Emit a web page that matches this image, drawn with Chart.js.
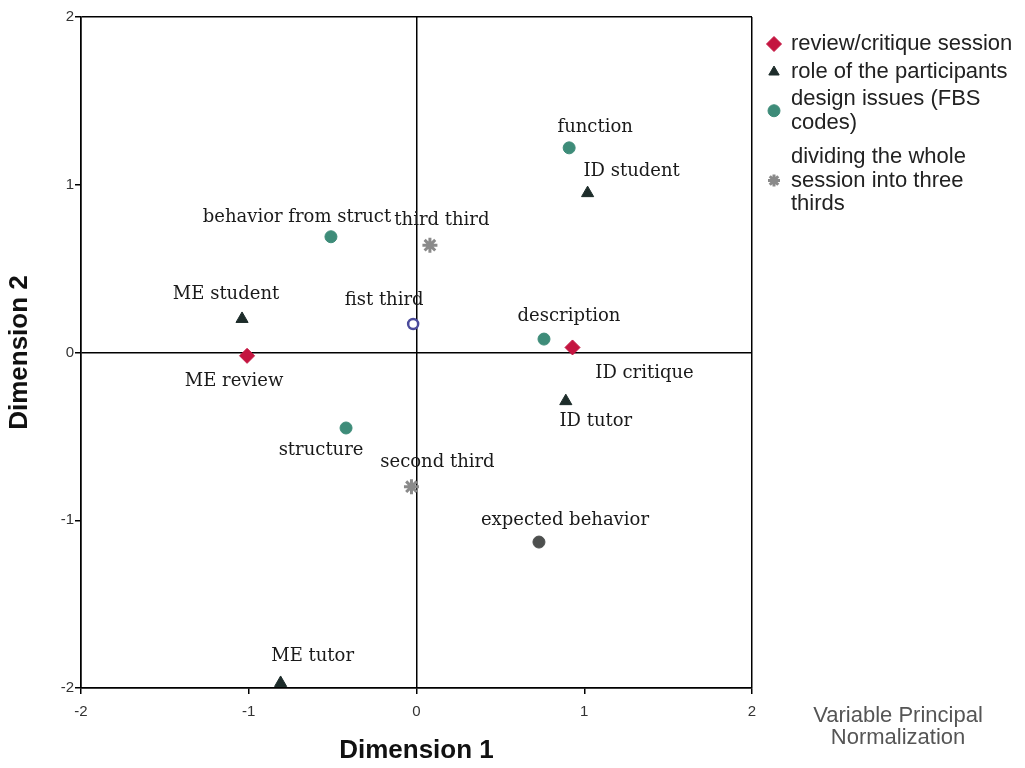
<!DOCTYPE html>
<html>
<head>
<meta charset="utf-8">
<script src="https://cdn.jsdelivr.net/npm/chart.js@4"></script>
<style>
  html, body { margin: 0; padding: 0; background: #fff; }
  #wrap { width: 1025px; height: 768px; position: relative; }
</style>
</head>
<body>
<div id="wrap"><canvas id="chart" width="1025" height="768"></canvas></div>
<script>
// review/critique session
const sessionNames = ["ME review", "ID critique"];
const sessionX = [-1.01, 0.93];
const sessionY = [-0.02, 0.03];

// role of the participants
const roleNames = ["ME student", "ID student", "ID tutor", "ME tutor"];
const roleX = [-1.04, 1.02, 0.89, -0.81];
const roleY = [0.20, 0.95, -0.29, -1.97];

// design issues (FBS codes)
const designNames = ["function", "behavior from struct", "description", "structure", "expected behavior"];
const designX = [0.91, -0.51, 0.76, -0.42, 0.73];
const designY = [1.22, 0.69, 0.08, -0.45, -1.13];

// dividing the whole session into three thirds
const thirdNames = ["fist third", "second third", "third third"];
const thirdX = [-0.02, -0.03, 0.08];
const thirdY = [0.17, -0.80, 0.64];

const axisTicks = [-2, -1, 0, 1, 2];

const legendLines = [
  ["review/critique session"],
  ["role of the participants"],
  ["design issues (FBS", "codes)"],
  ["dividing the whole", "session into three", "thirds"]
];

// label offsets in px from the marker (dx, dy), per series
const sessionOff = [[-13, 25], [72, 26]];
const roleOff = [[-16, -25], [44, -22], [30, 20], [32, -27]];
const designOff = [[26, -21], [-34, -19], [25, -23], [-25, 22], [26, -22]];
const thirdOff = [[-29, -24], [26, -24], [12, -25]];

const pts = (xs, ys, names) => xs.map((x, i) => ({x: x, y: ys[i], name: names[i]}));

const RED = "#c41540", DARK = "#1d2c2a", TEAL = "#3e8c79", GREY = "#8a8a8a";

const datasets = [
  {label: "review/critique session", data: pts(sessionX, sessionY, sessionNames), off: sessionOff,
   pointStyle: "rectRot", pointRadius: 7.5, backgroundColor: RED, borderColor: RED},
  {label: "role of the participants", data: pts(roleX, roleY, roleNames), off: roleOff,
   pointStyle: "triangle", pointRadius: 7, backgroundColor: DARK, borderColor: DARK},
  {label: "design issues (FBS codes)", data: pts(designX, designY, designNames), off: designOff,
   pointStyle: "circle", pointRadius: 6,
   backgroundColor: [TEAL, TEAL, TEAL, TEAL, "#4d4f4e"], borderColor: [TEAL, TEAL, TEAL, TEAL, "#4d4f4e"]},
  {label: "dividing the whole session into three thirds", data: pts(thirdX, thirdY, thirdNames), off: thirdOff,
   pointStyle: ["circle", "star", "star"], pointRadius: [5, 7.5, 7.5], borderWidth: [2.5, 3, 3],
   backgroundColor: ["#fff", GREY, GREY], borderColor: ["#4b4b9c", GREY, GREY]}
];

const lineColor = ctx => (ctx.tick && (ctx.tick.value === 0 || Math.abs(ctx.tick.value) === 2)) ? "#000" : "rgba(0,0,0,0)";

const pointLabels = {
  id: "pointLabels",
  afterDatasetsDraw(chart) {
    const c = chart.ctx;
    c.save();
    c.font = '18px "DejaVu Serif", serif';
    c.fillStyle = "#1a1a1a";
    c.textAlign = "center";
    c.textBaseline = "middle";
    chart.data.datasets.forEach((ds, di) => {
      chart.getDatasetMeta(di).data.forEach((el, i) => {
        const o = ds.off[i];
        c.fillText(ds.data[i].name, el.x + o[0], el.y + o[1]);
      });
    });
    c.restore();
  }
};

const sideLegend = {
  id: "sideLegend",
  afterDraw(chart) {
    const c = chart.ctx;
    c.save();
    c.font = '22px "Liberation Sans", Arial, sans-serif';
    c.textBaseline = "middle";
    const startY = [44, 72, 99, 157];
    legendLines.forEach((lines, k) => {
      c.fillStyle = "#222";
      lines.forEach((t, j) => c.fillText(t, 791, startY[k] + j * 23.5));
      const ds = chart.data.datasets[k];
      const my = startY[k] + (lines.length - 1) * 23.5 / 2;
      const style = Array.isArray(ds.pointStyle) ? ds.pointStyle[1] : ds.pointStyle;
      const bg = Array.isArray(ds.backgroundColor) ? ds.backgroundColor[1] : ds.backgroundColor;
      const bc = Array.isArray(ds.borderColor) ? ds.borderColor[1] : ds.borderColor;
      c.fillStyle = bg; c.strokeStyle = bc; c.lineWidth = style === "star" ? 3 : 1;
      Chart.helpers.drawPoint(c, {pointStyle: style, radius: style === "rectRot" ? 7.5 : 6, borderWidth: c.lineWidth}, 774, my);
    });
    c.font = '22px "Liberation Sans", Arial, sans-serif';
    c.fillStyle = "#555";
    c.textAlign = "center";
    c.fillText("Variable Principal", 898, 716);
    c.fillText("Normalization", 898, 738);
    c.restore();
  }
};

const tickFont = {family: '"Liberation Sans", Arial, sans-serif', size: 15};
const titleFont = {family: '"Liberation Sans", Arial, sans-serif', size: 26, weight: "bold"};

new Chart(document.getElementById("chart"), {
  type: "scatter",
  data: {datasets: datasets},
  options: {
    responsive: false,
    animation: false,
    layout: {padding: {left: 0, top: 17, right: 273, bottom: 0}},
    plugins: {legend: {display: false}, tooltip: {enabled: false}},
    scales: {
      x: {
        type: "linear", min: -2, max: 2,
        afterBuildTicks: s => { s.ticks = axisTicks.map(v => ({value: v})); },
        afterFit: s => { s.height = 80; },
        grid: {color: lineColor, tickColor: "#000", tickLength: 6, lineWidth: 1.5},
        border: {color: "#000", width: 1.5},
        ticks: {font: tickFont, color: "#333", padding: 9},
        title: {display: true, text: "Dimension 1", font: titleFont, color: "#111", padding: {top: 0, bottom: 2}}
      },
      y: {
        type: "linear", min: -2, max: 2,
        afterBuildTicks: s => { s.ticks = axisTicks.map(v => ({value: v})); },
        afterFit: s => { s.width = 81; },
        grid: {color: lineColor, tickColor: "#000", tickLength: 6, lineWidth: 1.5},
        border: {color: "#000", width: 1.5},
        ticks: {font: tickFont, color: "#333", padding: 1},
        title: {display: true, text: "Dimension 2", font: titleFont, color: "#111", padding: {top: 4, bottom: 0}}
      }
    }
  },
  plugins: [pointLabels, sideLegend]
});
</script>
</body>
</html>
